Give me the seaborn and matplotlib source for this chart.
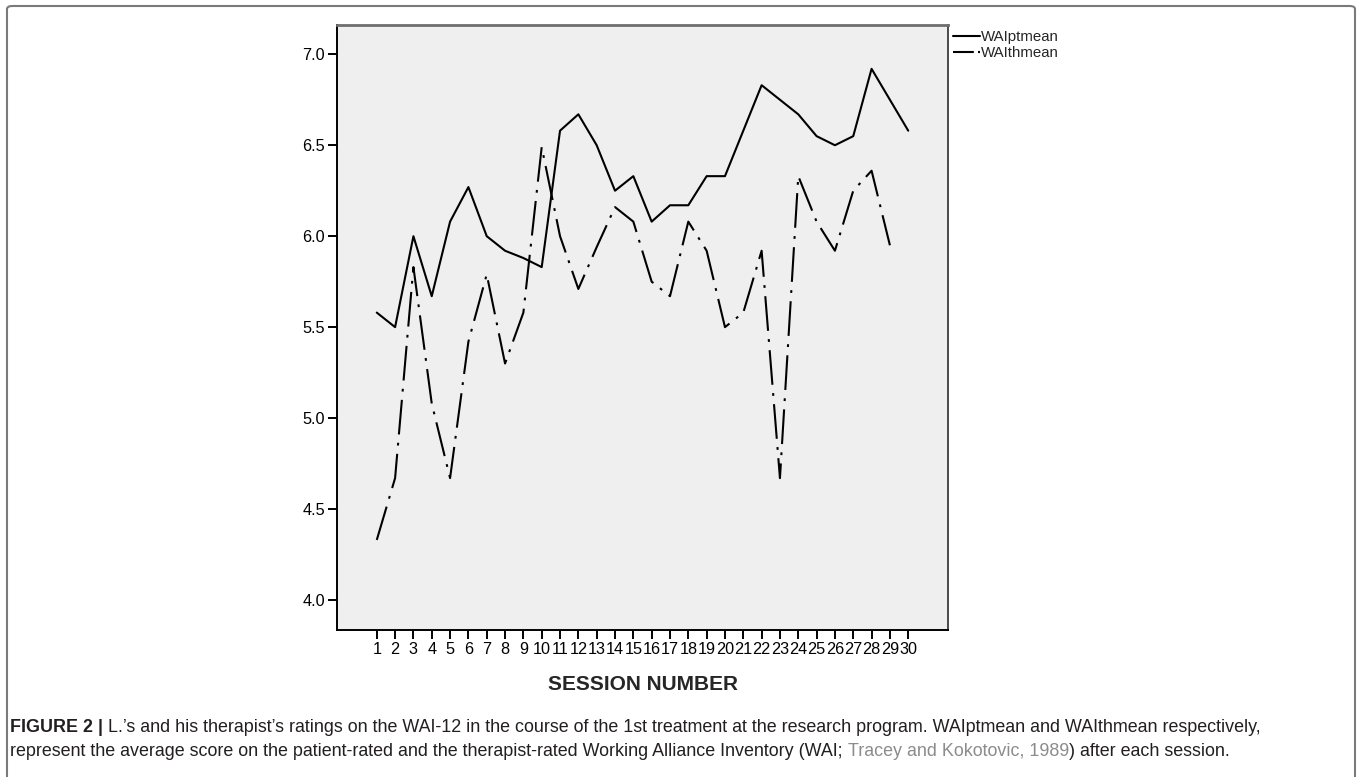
import numpy as np
import pandas as pd
import matplotlib
matplotlib.use("Agg")
import matplotlib.pyplot as plt
from matplotlib.patches import FancyBboxPatch
import seaborn as sns

# --- data ---
sessions = list(range(1, 31))
wai_pt = [5.58, 5.50, 6.00, 5.67, 6.08, 6.27, 6.00, 5.92, 5.88, 5.83,
          6.58, 6.67, 6.50, 6.25, 6.33, 6.08, 6.17, 6.17, 6.33, 6.33,
          6.58, 6.83, 6.75, 6.67, 6.55, 6.50, 6.55, 6.92, 6.75, 6.58]
wai_th = [4.33, 4.67, 5.83, 5.08, 4.67, 5.42, 5.79, 5.30, 5.58, 6.49,
          6.00, 5.71, 5.94, 6.16, 6.08, 5.75, 5.67, 6.08, 5.92, 5.50,
          5.58, 5.92, 4.67, 6.33, 6.08, 5.92, 6.25, 6.36, 5.95, np.nan]
series_names = ["WAIptmean", "WAIthmean"]
y_ticks = [4.0, 4.5, 5.0, 5.5, 6.0, 6.5, 7.0]

caption_1 = [("FIGURE 2 | ", "bold", "#231f20"),
             ("L.\u2019s and his therapist\u2019s ratings on the WAI-12 in the course of the 1st treatment "
              "at the research program. WAIptmean and WAIthmean respectively,", "normal", "#231f20")]
caption_2 = [("represent the average score on the patient-rated and the therapist-rated Working "
              "Alliance Inventory (WAI; ", "normal", "#231f20"),
             ("Tracey and Kokotovic, 1989", "normal", "#8c8c8c"),
             (") after each session.", "normal", "#231f20")]

df = pd.DataFrame({"session": sessions * 2,
                   "score": wai_pt + wai_th,
                   "series": [series_names[0]] * 30 + [series_names[1]] * 30})

sns.set_style("ticks")
plt.rcParams["font.family"] = ["Liberation Sans", "DejaVu Sans"]
plt.rcParams["lines.scale_dashes"] = False

W, H = 1357, 777
fig = plt.figure(figsize=(W / 100, H / 100), dpi=100)
ax = fig.add_axes([337 / W, 1 - 630 / H, (948 - 337) / W, (630 - 25) / H])
ax.set_facecolor("#efefef")

sns.lineplot(data=df, x="session", y="score", hue="series", style="series",
             palette={"WAIptmean": "black", "WAIthmean": "black"},
             dashes={"WAIptmean": "", "WAIthmean": (25, 6, 2, 6)},
             linewidth=1.5, ax=ax)

ax.set_xlim(-1.17, 32.17)
ax.set_ylim(3.835, 7.161)
ax.set_xticks(sessions)
ax.set_xticklabels([str(s) for s in sessions])
ax.set_yticks(y_ticks)
ax.set_yticklabels([f"{v:.1f}" for v in y_ticks])
ax.tick_params(direction="out", length=6.5, width=1.4, labelsize=11.7,
               colors="black", pad=2)
ax.set_ylabel("")
ax.set_xlabel("SESSION NUMBER", fontsize=15, fontweight="bold", labelpad=13)

for side in ["left", "bottom"]:
    ax.spines[side].set_color("black")
    ax.spines[side].set_linewidth(1.4)
ax.spines["top"].set_color("#6e6e6e")
ax.spines["top"].set_linewidth(2.0)
ax.spines["right"].set_color("#4a4a4a")
ax.spines["right"].set_linewidth(1.4)

handles, labels = ax.get_legend_handles_labels()
leg = ax.legend(handles, labels, loc="upper left", bbox_to_anchor=(1.0, 1.0),
                frameon=False, fontsize=10.8, handlelength=1.75,
                handletextpad=0.1, borderaxespad=0.15, labelspacing=0.12,
                borderpad=0.2)
# short dash + dot in the legend key, like the original
leg.get_lines()[1].set_dashes((15, 3, 2, 20))

# outer rounded border
box = FancyBboxPatch((7 / W, -0.05), (1355 - 7) / W, 1 - 6 / H + 0.05,
                     boxstyle="round,pad=0,rounding_size=0.004",
                     transform=fig.transFigure, fill=False,
                     edgecolor="#7a7a7a", linewidth=1.5)
fig.patches.append(box)

# caption with mixed styles
fig.canvas.draw()
renderer = fig.canvas.get_renderer()
cap_size = 12.9


def text_width(s, weight):
    t = fig.text(0, 0, s + "|", fontsize=cap_size, fontweight=weight)
    w1 = t.get_window_extent(renderer).width
    t.set_text("|")
    w2 = t.get_window_extent(renderer).width
    t.remove()
    return w1 - w2


for parts, ypix in [(caption_1, 727), (caption_2, 751)]:
    x = 10
    for s, weight, color in parts:
        fig.text(x / W, 1 - ypix / H, s, fontsize=cap_size, fontweight=weight,
                 color=color, va="center", ha="left")
        x += text_width(s, weight)

fig.savefig("out.png", dpi=100)
